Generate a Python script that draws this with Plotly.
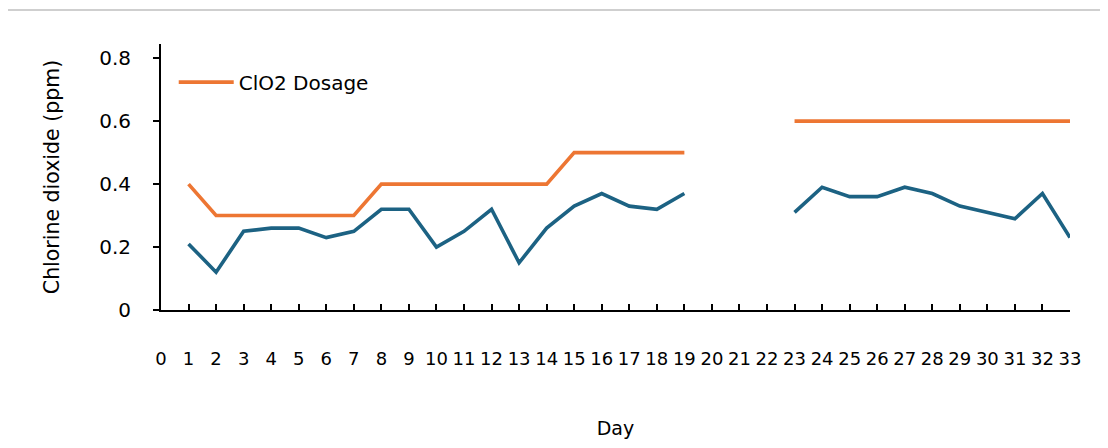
import plotly.graph_objects as go

days = list(range(1, 34))
clo2_residual = [0.21, 0.12, 0.25, 0.26, 0.26, 0.23, 0.25, 0.32, 0.32, 0.20,
                 0.25, 0.32, 0.15, 0.26, 0.33, 0.37, 0.33, 0.32, 0.37,
                 None, None, None,
                 0.31, 0.39, 0.36, 0.36, 0.39, 0.37, 0.33, 0.31, 0.29, 0.37, 0.23]
clo2_dosage = [0.4, 0.3, 0.3, 0.3, 0.3, 0.3, 0.3, 0.4, 0.4, 0.4,
               0.4, 0.4, 0.4, 0.4, 0.5, 0.5, 0.5, 0.5, 0.5,
               None, None, None,
               0.6, 0.6, 0.6, 0.6, 0.6, 0.6, 0.6, 0.6, 0.6, 0.6, 0.6]
x_ticks = list(range(0, 34))
y_ticks = [0, 0.2, 0.4, 0.6, 0.8]
y_tick_text = ["0", "0.2", "0.4", "0.6", "0.8"]

FONT = "DejaVu Sans"
# page has an 8px body margin, so the figure is drawn at (8, 8)
W, H = 1100, 440
L, R, T, B = 153, 38, 36, 138

fig = go.Figure()
fig.add_trace(go.Scatter(x=days, y=clo2_residual, mode="lines", name="Residual ClO2",
                         line=dict(color="#1C6283", width=3.6), showlegend=False,
                         connectgaps=False))
fig.add_trace(go.Scatter(x=days, y=clo2_dosage, mode="lines", name="ClO2 Dosage",
                         line=dict(color="#ED7633", width=3.6), connectgaps=False))

# light panel border along the top
pw, ph = W - L - R, H - T - B
fig.add_shape(type="line", xref="paper", yref="paper",
              x0=-L / pw, x1=(W - L) / pw,
              y0=(H - B - 2) / ph, y1=(H - B - 2) / ph,
              line=dict(color="#cfcfcf", width=2), layer="below")

fig.update_layout(
    width=W, height=H,
    margin=dict(l=L, r=R, t=T, b=B, autoexpand=False),
    paper_bgcolor="white",
    plot_bgcolor="rgba(0,0,0,0)",
    font=dict(family=FONT, color="#000000"),
    legend=dict(x=0.014, y=0.93, xanchor="left", yanchor="top",
                font=dict(size=20, family=FONT), bgcolor="rgba(0,0,0,0)",
                itemwidth=55),
    xaxis=dict(range=[0, 33], tickvals=x_ticks, ticktext=[str(v) for v in x_ticks],
               ticks="inside", ticklen=6, tickwidth=1.5, tickcolor="#000",
               showline=True, linecolor="#000", linewidth=2, showgrid=False,
               zeroline=False, tickfont=dict(size=18, family=FONT),
               ticklabelstandoff=31, automargin=False,
               title=dict(text="Day", font=dict(size=19, family=FONT), standoff=54)),
    yaxis=dict(range=[0, 0.845], tickvals=y_ticks, ticktext=y_tick_text,
               ticks="outside", ticklen=6, tickwidth=1.5, tickcolor="#000",
               showline=True, linecolor="#000", linewidth=2, showgrid=False,
               zeroline=False, tickfont=dict(size=20, family=FONT),
               ticklabelstandoff=18, automargin=False,
               title=dict(text="Chlorine dioxide (ppm)", font=dict(size=20.5, family=FONT),
                          standoff=34)),
)

fig.write_html("out.html")
